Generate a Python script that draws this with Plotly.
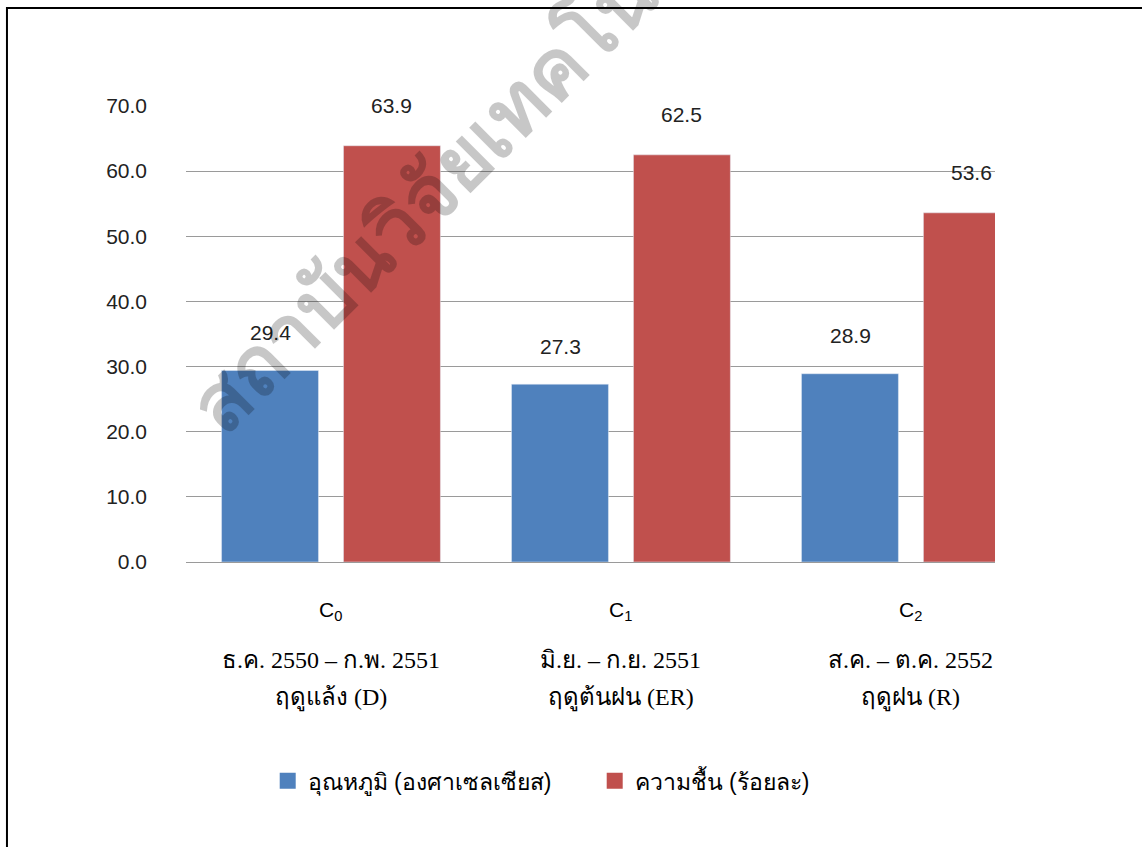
import plotly.graph_objects as go

categories = ["C<sub>0</sub>", "C<sub>1</sub>", "C<sub>2</sub>"]
periods = ["ธ.ค. 2550 – ก.พ. 2551", "มิ.ย. – ก.ย. 2551", "ส.ค. – ต.ค. 2552"]
seasons = ["ฤดูแล้ง (D)", "ฤดูต้นฝน (ER)", "ฤดูฝน (R)"]
temperature = [29.4, 27.3, 28.9]
humidity = [63.9, 62.5, 53.6]
series_names = ["อุณหภูมิ (องศาเซลเซียส)", "ความชื้น (ร้อยละ)"]
y_ticks = [0, 10, 20, 30, 40, 50, 60, 70]
watermark = "สถาบันวิจัยเทคโนโลยี"

BLUE = "#4F81BD"
RED = "#C0504D"
xpos = list(range(len(categories)))

fig = go.Figure()
fig.add_trace(go.Bar(x=xpos, y=temperature, marker_color=BLUE, showlegend=False))
fig.add_trace(go.Bar(x=xpos, y=humidity, marker_color=RED, showlegend=False))
# legend entries with larger square symbols
for name, col in zip(series_names, [BLUE, RED]):
    fig.add_trace(go.Scatter(x=[None], y=[None], mode="markers", name=name,
                             marker=dict(symbol="square", size=20, color=col)))

off = 0.21
lab_font = dict(family="Liberation Sans", size=21, color="#222222")
ann = []
for i, v in enumerate(temperature):
    ann.append(dict(x=i - off, y=v, text=f"{v:.1f}", showarrow=False, yshift=38, font=lab_font))
for i, v in enumerate(humidity):
    ann.append(dict(x=i + off, y=v, text=f"{v:.1f}", showarrow=False, yshift=40, font=lab_font))
for i in xpos:
    ann.append(dict(x=i, y=-0.108, yref="paper", text=categories[i], showarrow=False,
                    yanchor="middle", font=dict(family="Liberation Sans", size=21, color="black")))
    ann.append(dict(x=i, y=-0.215, yref="paper", text=periods[i], showarrow=False,
                    yanchor="middle", font=dict(family="Liberation Serif", size=24, color="black")))
    ann.append(dict(x=i, y=-0.298, yref="paper", text=seasons[i], showarrow=False,
                    yanchor="middle", font=dict(family="Liberation Serif", size=24, color="black")))
ann.append(dict(x=0.354, y=0.905, xref="paper", yref="paper", text=watermark, showarrow=False,
                xanchor="center", yanchor="middle", textangle=-45,
                font=dict(family="Liberation Sans", size=80, weight="bold",
                          color="rgba(0,0,0,0.22)")))

fig.update_layout(
    width=1142, height=847,
    margin=dict(l=186, r=147, t=106, b=285),
    plot_bgcolor="white", paper_bgcolor="white",
    barmode="group", bargap=0.159, bargroupgap=0.205,
    annotations=ann,
    showlegend=True,
    legend=dict(orientation="h", x=0.101, y=-0.48, xanchor="left", yanchor="middle",
                font=dict(family="Liberation Sans", size=23, color="black"),
                entrywidth=282, entrywidthmode="pixels", itemwidth=30),
    shapes=[dict(type="rect", xref="paper", yref="paper", x0=-0.2213, x1=1.4, y0=-0.9, y1=1.2149,
                 line=dict(color="black", width=2), fillcolor="rgba(0,0,0,0)")],
)
fig.update_xaxes(range=[-0.5, 2.29], showticklabels=False, showgrid=False, zeroline=False,
                 showline=False, ticks="")
fig.update_yaxes(range=[0, 70], tickvals=y_ticks, ticktext=[f"{t:.1f}" for t in y_ticks],
                 showgrid=True, gridcolor="#9a9a9a", gridwidth=1, zeroline=True,
                 zerolinecolor="#9a9a9a", zerolinewidth=1, showline=False,
                 ticklabelstandoff=38, tickfont=dict(family="Liberation Sans", size=21, color="#222222"))

fig.write_html("out.html")
